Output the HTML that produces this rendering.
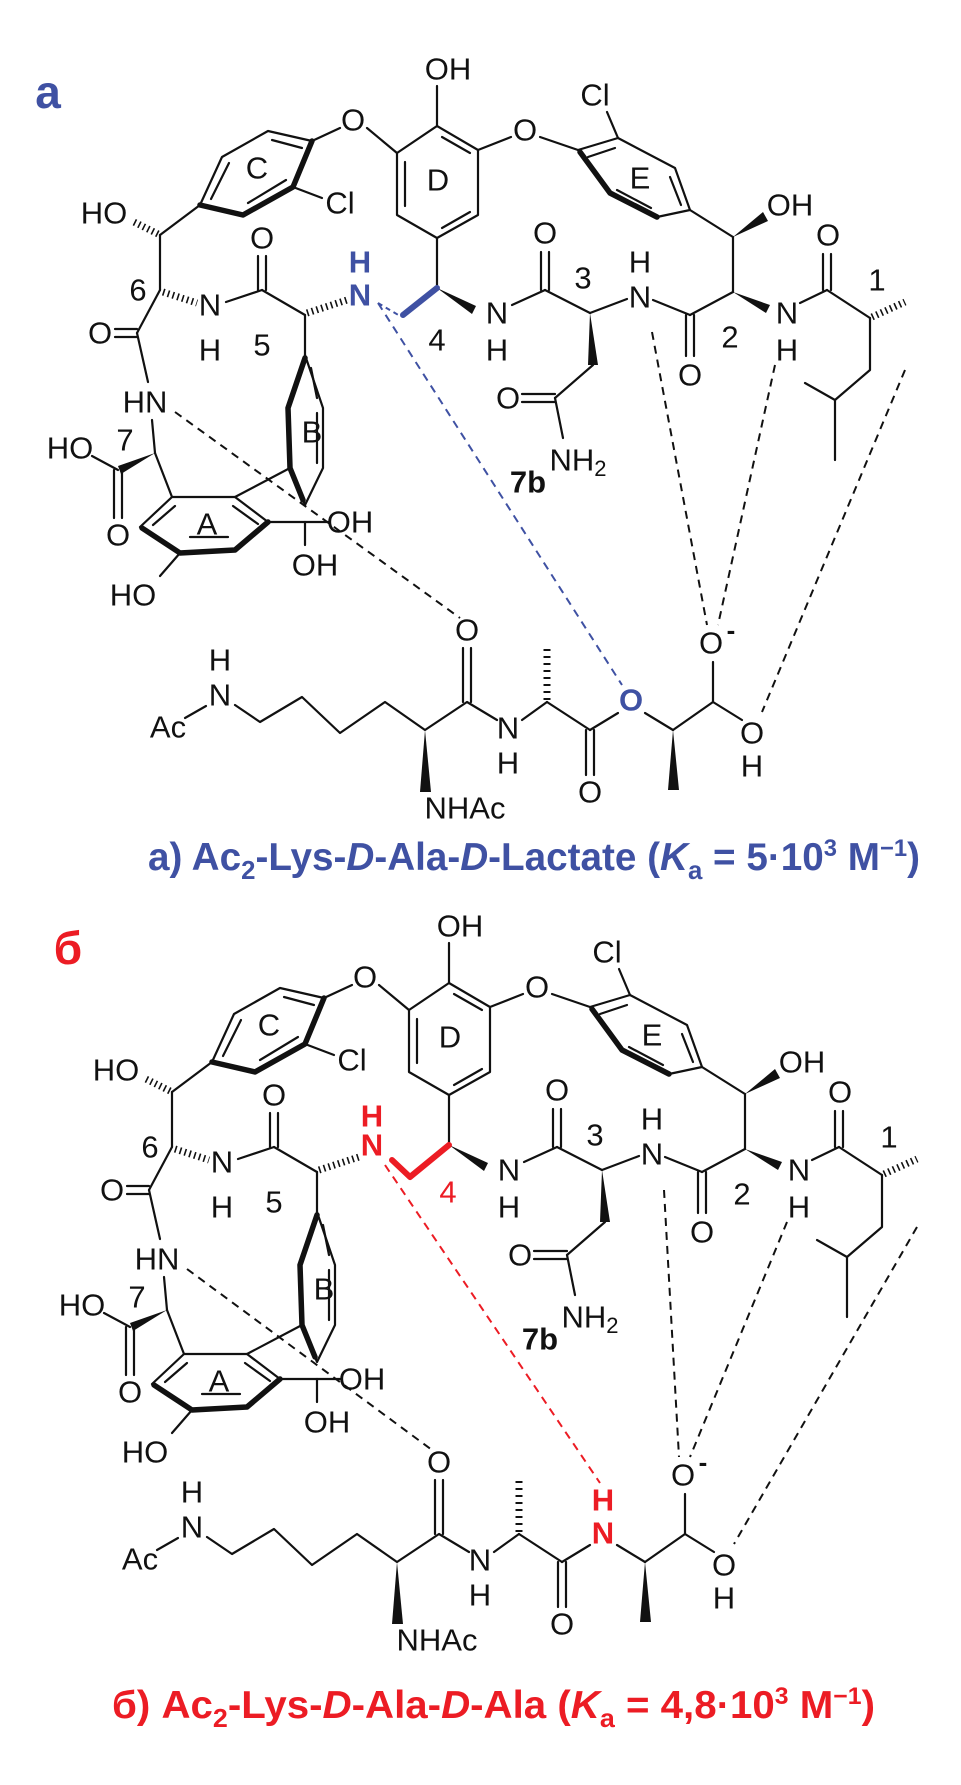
<!DOCTYPE html>
<html><head><meta charset="utf-8"><style>
html,body{margin:0;padding:0;background:#fff;}
svg{display:block;}
.t{font-family:"Liberation Sans",sans-serif;font-size:31px;text-anchor:middle;dominant-baseline:central;fill:#111;}
.s{font-size:29px;}
.bl{stroke:#111;stroke-width:2.2;fill:none;stroke-linecap:round;stroke-linejoin:round;}
.th{stroke:#111;stroke-width:5.5;fill:none;stroke-linecap:round;stroke-linejoin:round;}
.w{fill:#111;stroke:none;}
.h{stroke:#111;stroke-width:7;stroke-dasharray:1.6,3.4;fill:none;}
.d{stroke:#111;stroke-width:2;stroke-dasharray:8,6;fill:none;}
</style></head><body>
<svg width="961" height="1785" viewBox="0 0 961 1785" xmlns="http://www.w3.org/2000/svg">
<rect width="961" height="1785" fill="#fff"/>

<text x="48" y="92" class="t" style="font-size:46px;font-weight:bold;fill:#3f51a3">a</text>
<text x="68" y="948" class="t" style="font-size:46px;font-weight:bold;fill:#ec1c24">б</text>

<!-- ===== MACROCYCLE TOP ===== -->
<g id="macA">
<g class="bl">
<polygon points="437,126 478,150 478,215 437,238 397,215 397,153"/>
<line x1="405" y1="162" x2="405" y2="206"/><line x1="442" y1="137" x2="470" y2="153"/><line x1="442" y1="228" x2="470" y2="212"/>
<line x1="437" y1="126" x2="437" y2="86"/>
<line x1="312" y1="141" x2="340" y2="128"/><line x1="367" y1="128" x2="397" y2="153"/>
<line x1="478" y1="150" x2="511" y2="137"/><line x1="540" y1="137" x2="578" y2="150"/>
<polyline points="200,205 222,157 268,131 312,141"/>
<line x1="211" y1="199" x2="229" y2="163"/><line x1="272" y1="140" x2="302" y2="148"/><line x1="286" y1="180" x2="248" y2="203"/>
<line x1="293" y1="187" x2="322" y2="198"/>
<line x1="200" y1="205" x2="160" y2="235"/>
<line x1="160" y1="235" x2="160" y2="290"/>
<line x1="160" y1="290" x2="137" y2="333"/>
<line x1="115" y1="329" x2="137" y2="329"/><line x1="115" y1="337" x2="137" y2="337"/>
<line x1="226" y1="302" x2="262" y2="290"/>
<line x1="258" y1="256" x2="258" y2="290"/><line x1="266" y1="256" x2="266" y2="290"/>
<line x1="262" y1="290" x2="305" y2="315"/>
<line x1="305" y1="315" x2="305" y2="355"/>
<polygon points="305,355 288,408 290,468 305,505 323,468 323,408"/>
<line x1="317" y1="413" x2="317" y2="463"/><line x1="311" y1="368" x2="317" y2="398"/>
<line x1="290" y1="468" x2="235" y2="497"/>
<line x1="137" y1="333" x2="148" y2="382"/>
<line x1="152" y1="420" x2="155" y2="453"/>
<line x1="118" y1="470" x2="92" y2="456"/>
<line x1="114" y1="470" x2="114" y2="518"/><line x1="122" y1="470" x2="122" y2="518"/>
<line x1="155" y1="453" x2="172" y2="497"/>
<polygon points="172,497 235,497 268,522 235,550 180,553 140,527"/>
<line x1="175" y1="506" x2="153" y2="525"/><line x1="233" y1="506" x2="258" y2="524"/><line x1="190" y1="537" x2="228" y2="537"/>
<line x1="180" y1="553" x2="160" y2="576"/>
<line x1="268" y1="522" x2="328" y2="522"/><line x1="305" y1="522" x2="305" y2="545"/>
<line x1="437" y1="238" x2="437" y2="288"/>
<line x1="512" y1="305" x2="545" y2="290"/>
<line x1="541" y1="252" x2="541" y2="290"/><line x1="549" y1="252" x2="549" y2="290"/>
<line x1="545" y1="290" x2="590" y2="313"/>
<line x1="590" y1="313" x2="627" y2="299"/>
<line x1="653" y1="300" x2="690" y2="315"/>
<line x1="686" y1="315" x2="686" y2="356"/><line x1="694" y1="315" x2="694" y2="356"/>
<line x1="690" y1="315" x2="733" y2="292"/>
<line x1="733" y1="292" x2="733" y2="237"/>
<line x1="733" y1="237" x2="690" y2="210"/>
<polyline points="578,150 618,138 675,168 690,210 657,217"/>
<line x1="588" y1="157" x2="615" y2="148"/><line x1="670" y1="177" x2="681" y2="205"/><line x1="651" y1="208" x2="617" y2="190"/>
<line x1="618" y1="138" x2="607" y2="112"/>
<line x1="800" y1="303" x2="827" y2="290"/>
<line x1="823" y1="254" x2="823" y2="290"/><line x1="831" y1="254" x2="831" y2="290"/>
<line x1="827" y1="290" x2="870" y2="318"/>
<polyline points="870,318 870,370 835,400 805,383"/><line x1="835" y1="400" x2="835" y2="460"/>
<line x1="593" y1="365" x2="555" y2="398"/>
<line x1="522" y1="394" x2="555" y2="394"/><line x1="522" y1="402" x2="555" y2="402"/>
<line x1="555" y1="398" x2="563" y2="438"/>
</g>
<polyline class="th" points="312,141 293,187 243,215 200,205"/>
<polyline class="th" points="305,358 288,408 290,468 303,500"/>
<polyline class="th" points="268,522 235,550 180,553 142,528"/>
<polyline class="th" points="580,152 610,193 657,217"/>
<polygon class="w" points="155,453 118,466 121,474"/>
<polygon class="w" points="437,288 476,306 472,314"/>
<polygon class="w" points="733,237 763,212 768,221"/>
<polygon class="w" points="733,292 770,305 766,313"/>
<polygon class="w" points="590,313 588,365 598,365"/>
<line class="h" x1="158" y1="234" x2="132" y2="221"/>
<line class="h" x1="163" y1="292" x2="197" y2="303"/>
<line class="h" x1="307" y1="313" x2="347" y2="300"/>
<line class="h" x1="872" y1="317" x2="905" y2="302"/>
<g class="t">
<text x="448" y="69">OH</text><text x="353" y="120">O</text><text x="525" y="130">O</text>
<text x="340" y="203">Cl</text><text x="257" y="168">C</text><text x="438" y="180">D</text><text x="640" y="178">E</text>
<text x="595" y="95">Cl</text><text x="104" y="213">HO</text><text x="138" y="290">6</text><text x="100" y="333">O</text>
<text x="210" y="305">N</text><text x="210" y="350">H</text><text x="262" y="238">O</text><text x="262" y="345">5</text>
<text x="312" y="432">B</text><text x="145" y="402">HN</text><text x="125" y="440">7</text><text x="70" y="448">HO</text>
<text x="118" y="535">O</text><text x="207" y="524">A</text><text x="133" y="595">HO</text><text x="350" y="522">OH</text>
<text x="315" y="565">OH</text><text x="497" y="313">N</text><text x="497" y="350">H</text>
<text x="545" y="233">O</text><text x="583" y="278">3</text><text x="640" y="297">N</text><text x="640" y="262">H</text>
<text x="690" y="375">O</text><text x="730" y="337">2</text><text x="790" y="205">OH</text><text x="787" y="313">N</text><text x="787" y="350">H</text>
<text x="828" y="235">O</text><text x="877" y="280">1</text><text x="508" y="398">O</text>
<text x="578" y="460">NH<tspan style="font-size:22px" dy="8">2</tspan></text>
<text x="528" y="482" style="font-weight:bold">7b</text>
</g>
</g>
<!-- residue 4 top (blue) -->
<line x1="403" y1="315" x2="437" y2="288" stroke="#3f51a3" stroke-width="6" stroke-linecap="round"/>
<line x1="378" y1="303" x2="400" y2="316" stroke="#3f51a3" stroke-width="2" stroke-dasharray="5,4"/>
<text x="437" y="340" class="t">4</text>
<text x="360" y="295" class="t" style="font-weight:bold;fill:#3f51a3">N</text>
<text x="360" y="262" class="t" style="font-weight:bold;fill:#3f51a3">H</text>

<!-- ligand top -->
<g id="ligA">
<g class="bl">
<line x1="185" y1="718" x2="206" y2="706"/>
<polyline points="235,705 260,722 302,697 340,733 385,702 425,730 467,702 497,720"/>
<line x1="463" y1="702" x2="463" y2="648"/><line x1="471" y1="702" x2="471" y2="648"/>
<line x1="522" y1="720" x2="547" y2="702"/>
<line x1="547" y1="702" x2="590" y2="730"/>
<line x1="586" y1="730" x2="586" y2="775"/><line x1="594" y1="730" x2="594" y2="775"/>
<line x1="590" y1="730" x2="618" y2="713"/>
<line x1="645" y1="713" x2="673" y2="730"/>
<line x1="673" y1="730" x2="713" y2="702"/>
<line x1="713" y1="702" x2="713" y2="662"/>
<line x1="713" y1="702" x2="742" y2="720"/>
</g>
<polygon class="w" points="425,730 420,792 431,792"/>
<polygon class="w" points="673,730 668,790 679,790"/>
<line class="h" x1="547" y1="700" x2="547" y2="648" style="stroke-dasharray:2,5"/>
<g class="t">
<text x="220" y="660">H</text><text x="220" y="695">N</text><text x="168" y="727">Ac</text>
<text x="467" y="630">O</text><text x="465" y="808">NHAc</text>
<text x="508" y="728">N</text><text x="508" y="763">H</text>
<text x="590" y="792">O</text>
<text x="711" y="643">O</text><text x="731" y="630" style="font-size:26px;font-weight:bold">-</text>
<text x="752" y="733">O</text><text x="752" y="766">H</text>
</g>
</g>
<text x="631" y="700" class="t" style="font-weight:bold;fill:#3f51a3">O</text>
<!-- dashes top -->
<line class="d" x1="175" y1="412" x2="460" y2="618"/>
<line x1="378" y1="303" x2="622" y2="685" stroke="#3f51a3" stroke-width="2" stroke-dasharray="8,6"/>
<line class="d" x1="652" y1="332" x2="707" y2="625"/>
<line class="d" x1="775" y1="365" x2="718" y2="625"/>
<line class="d" x1="905" y1="370" x2="762" y2="712"/>

<text x="148" y="870" textLength="772" lengthAdjust="spacingAndGlyphs" style="font-family:'Liberation Sans',sans-serif;font-size:39px;font-weight:bold;fill:#3f51a3">a) Ac<tspan dy="9" style="font-size:26px">2</tspan><tspan dy="-9">-Lys-</tspan><tspan style="font-style:italic">D</tspan>-Ala-<tspan style="font-style:italic">D</tspan>-Lactate  (<tspan style="font-style:italic">K</tspan><tspan dy="9" style="font-size:26px">a</tspan><tspan dy="-9"> = 5·10</tspan><tspan dy="-14" style="font-size:24px">3</tspan><tspan dy="14"> M</tspan><tspan dy="-14" style="font-size:24px">−1</tspan><tspan dy="14">)</tspan></text>

<!-- ===== BOTTOM ===== -->
<g transform="translate(12,857)">
<g class="bl">
<polygon points="437,126 478,150 478,215 437,238 397,215 397,153"/>
<line x1="405" y1="162" x2="405" y2="206"/><line x1="442" y1="137" x2="470" y2="153"/><line x1="442" y1="228" x2="470" y2="212"/>
<line x1="437" y1="126" x2="437" y2="86"/>
<line x1="312" y1="141" x2="340" y2="128"/><line x1="367" y1="128" x2="397" y2="153"/>
<line x1="478" y1="150" x2="511" y2="137"/><line x1="540" y1="137" x2="578" y2="150"/>
<polyline points="200,205 222,157 268,131 312,141"/>
<line x1="211" y1="199" x2="229" y2="163"/><line x1="272" y1="140" x2="302" y2="148"/><line x1="286" y1="180" x2="248" y2="203"/>
<line x1="293" y1="187" x2="322" y2="198"/>
<line x1="200" y1="205" x2="160" y2="235"/>
<line x1="160" y1="235" x2="160" y2="290"/>
<line x1="160" y1="290" x2="137" y2="333"/>
<line x1="115" y1="329" x2="137" y2="329"/><line x1="115" y1="337" x2="137" y2="337"/>
<line x1="226" y1="302" x2="262" y2="290"/>
<line x1="258" y1="256" x2="258" y2="290"/><line x1="266" y1="256" x2="266" y2="290"/>
<line x1="262" y1="290" x2="305" y2="315"/>
<line x1="305" y1="315" x2="305" y2="355"/>
<polygon points="305,355 288,408 290,468 305,505 323,468 323,408"/>
<line x1="317" y1="413" x2="317" y2="463"/><line x1="311" y1="368" x2="317" y2="398"/>
<line x1="290" y1="468" x2="235" y2="497"/>
<line x1="137" y1="333" x2="148" y2="382"/>
<line x1="152" y1="420" x2="155" y2="453"/>
<line x1="118" y1="470" x2="92" y2="456"/>
<line x1="114" y1="470" x2="114" y2="518"/><line x1="122" y1="470" x2="122" y2="518"/>
<line x1="155" y1="453" x2="172" y2="497"/>
<polygon points="172,497 235,497 268,522 235,550 180,553 140,527"/>
<line x1="175" y1="506" x2="153" y2="525"/><line x1="233" y1="506" x2="258" y2="524"/><line x1="190" y1="537" x2="228" y2="537"/>
<line x1="180" y1="553" x2="160" y2="576"/>
<line x1="268" y1="522" x2="328" y2="522"/><line x1="305" y1="522" x2="305" y2="545"/>
<line x1="437" y1="238" x2="437" y2="288"/>
<line x1="512" y1="305" x2="545" y2="290"/>
<line x1="541" y1="252" x2="541" y2="290"/><line x1="549" y1="252" x2="549" y2="290"/>
<line x1="545" y1="290" x2="590" y2="313"/>
<line x1="590" y1="313" x2="627" y2="299"/>
<line x1="653" y1="300" x2="690" y2="315"/>
<line x1="686" y1="315" x2="686" y2="356"/><line x1="694" y1="315" x2="694" y2="356"/>
<line x1="690" y1="315" x2="733" y2="292"/>
<line x1="733" y1="292" x2="733" y2="237"/>
<line x1="733" y1="237" x2="690" y2="210"/>
<polyline points="578,150 618,138 675,168 690,210 657,217"/>
<line x1="588" y1="157" x2="615" y2="148"/><line x1="670" y1="177" x2="681" y2="205"/><line x1="651" y1="208" x2="617" y2="190"/>
<line x1="618" y1="138" x2="607" y2="112"/>
<line x1="800" y1="303" x2="827" y2="290"/>
<line x1="823" y1="254" x2="823" y2="290"/><line x1="831" y1="254" x2="831" y2="290"/>
<line x1="827" y1="290" x2="870" y2="318"/>
<polyline points="870,318 870,370 835,400 805,383"/><line x1="835" y1="400" x2="835" y2="460"/>
<line x1="593" y1="365" x2="555" y2="398"/>
<line x1="522" y1="394" x2="555" y2="394"/><line x1="522" y1="402" x2="555" y2="402"/>
<line x1="555" y1="398" x2="563" y2="438"/>
</g>
<polyline class="th" points="312,141 293,187 243,215 200,205"/>
<polyline class="th" points="305,358 288,408 290,468 303,500"/>
<polyline class="th" points="268,522 235,550 180,553 142,528"/>
<polyline class="th" points="580,152 610,193 657,217"/>
<polygon class="w" points="155,453 118,466 121,474"/>
<polygon class="w" points="437,288 476,306 472,314"/>
<polygon class="w" points="733,237 763,212 768,221"/>
<polygon class="w" points="733,292 770,305 766,313"/>
<polygon class="w" points="590,313 588,365 598,365"/>
<line class="h" x1="158" y1="234" x2="132" y2="221"/>
<line class="h" x1="163" y1="292" x2="197" y2="303"/>
<line class="h" x1="307" y1="313" x2="347" y2="300"/>
<line class="h" x1="872" y1="317" x2="905" y2="302"/>
<g class="t">
<text x="448" y="69">OH</text><text x="353" y="120">O</text><text x="525" y="130">O</text>
<text x="340" y="203">Cl</text><text x="257" y="168">C</text><text x="438" y="180">D</text><text x="640" y="178">E</text>
<text x="595" y="95">Cl</text><text x="104" y="213">HO</text><text x="138" y="290">6</text><text x="100" y="333">O</text>
<text x="210" y="305">N</text><text x="210" y="350">H</text><text x="262" y="238">O</text><text x="262" y="345">5</text>
<text x="312" y="432">B</text><text x="145" y="402">HN</text><text x="125" y="440">7</text><text x="70" y="448">HO</text>
<text x="118" y="535">O</text><text x="207" y="524">A</text><text x="133" y="595">HO</text><text x="350" y="522">OH</text>
<text x="315" y="565">OH</text><text x="497" y="313">N</text><text x="497" y="350">H</text>
<text x="545" y="233">O</text><text x="583" y="278">3</text><text x="640" y="297">N</text><text x="640" y="262">H</text>
<text x="690" y="375">O</text><text x="730" y="337">2</text><text x="790" y="205">OH</text><text x="787" y="313">N</text><text x="787" y="350">H</text>
<text x="828" y="235">O</text><text x="877" y="280">1</text><text x="508" y="398">O</text>
<text x="578" y="460">NH<tspan style="font-size:22px" dy="8">2</tspan></text>
<text x="528" y="482" style="font-weight:bold">7b</text>
</g>
<polyline points="380,303 398,320 437,288" stroke="#ec1c24" stroke-width="6" fill="none" stroke-linejoin="round" stroke-linecap="round"/>
<text x="436" y="335" class="t" style="fill:#ec1c24">4</text>
<text x="360" y="288" class="t" style="font-weight:bold;fill:#ec1c24">N</text>
<text x="360" y="259" class="t" style="font-weight:bold;fill:#ec1c24">H</text>
</g>

<g transform="translate(-28,832)">
<g class="bl">
<line x1="185" y1="718" x2="206" y2="706"/>
<polyline points="235,705 260,722 302,697 340,733 385,702 425,730 467,702 497,720"/>
<line x1="463" y1="702" x2="463" y2="648"/><line x1="471" y1="702" x2="471" y2="648"/>
<line x1="522" y1="720" x2="547" y2="702"/>
<line x1="547" y1="702" x2="590" y2="730"/>
<line x1="586" y1="730" x2="586" y2="775"/><line x1="594" y1="730" x2="594" y2="775"/>
<line x1="590" y1="730" x2="618" y2="713"/>
<line x1="645" y1="713" x2="673" y2="730"/>
<line x1="673" y1="730" x2="713" y2="702"/>
<line x1="713" y1="702" x2="713" y2="662"/>
<line x1="713" y1="702" x2="742" y2="720"/>
</g>
<polygon class="w" points="425,730 420,792 431,792"/>
<polygon class="w" points="673,730 668,790 679,790"/>
<line class="h" x1="547" y1="700" x2="547" y2="648" style="stroke-dasharray:2,5"/>
<g class="t">
<text x="220" y="660">H</text><text x="220" y="695">N</text><text x="168" y="727">Ac</text>
<text x="467" y="630">O</text><text x="465" y="808">NHAc</text>
<text x="508" y="728">N</text><text x="508" y="763">H</text>
<text x="590" y="792">O</text>
<text x="711" y="643">O</text><text x="731" y="630" style="font-size:26px;font-weight:bold">-</text>
<text x="752" y="733">O</text><text x="752" y="766">H</text>
</g>
<text x="631" y="701" class="t" style="font-weight:bold;fill:#ec1c24">N</text>
<text x="631" y="668" class="t" style="font-weight:bold;fill:#ec1c24">H</text>
</g>
<line class="d" x1="187" y1="1269" x2="432" y2="1450"/>
<line x1="385" y1="1165" x2="600" y2="1483" stroke="#ec1c24" stroke-width="2" stroke-dasharray="8,6"/>
<line class="d" x1="664" y1="1190" x2="679" y2="1457"/>
<line class="d" x1="787" y1="1222" x2="690" y2="1457"/>
<line class="d" x1="917" y1="1227" x2="734" y2="1544"/>

<text x="112" y="1718" textLength="763" lengthAdjust="spacingAndGlyphs" style="font-family:'Liberation Sans',sans-serif;font-size:39px;font-weight:bold;fill:#ec1c24">б)  Ac<tspan dy="9" style="font-size:26px">2</tspan><tspan dy="-9">-Lys-</tspan><tspan style="font-style:italic">D</tspan>-Ala-<tspan style="font-style:italic">D</tspan>-Ala (<tspan style="font-style:italic">K</tspan><tspan dy="9" style="font-size:26px">a</tspan><tspan dy="-9"> = 4,8·10</tspan><tspan dy="-14" style="font-size:24px">3</tspan><tspan dy="14"> M</tspan><tspan dy="-14" style="font-size:24px">−1</tspan><tspan dy="14">)</tspan></text>
</svg>
</body></html>
